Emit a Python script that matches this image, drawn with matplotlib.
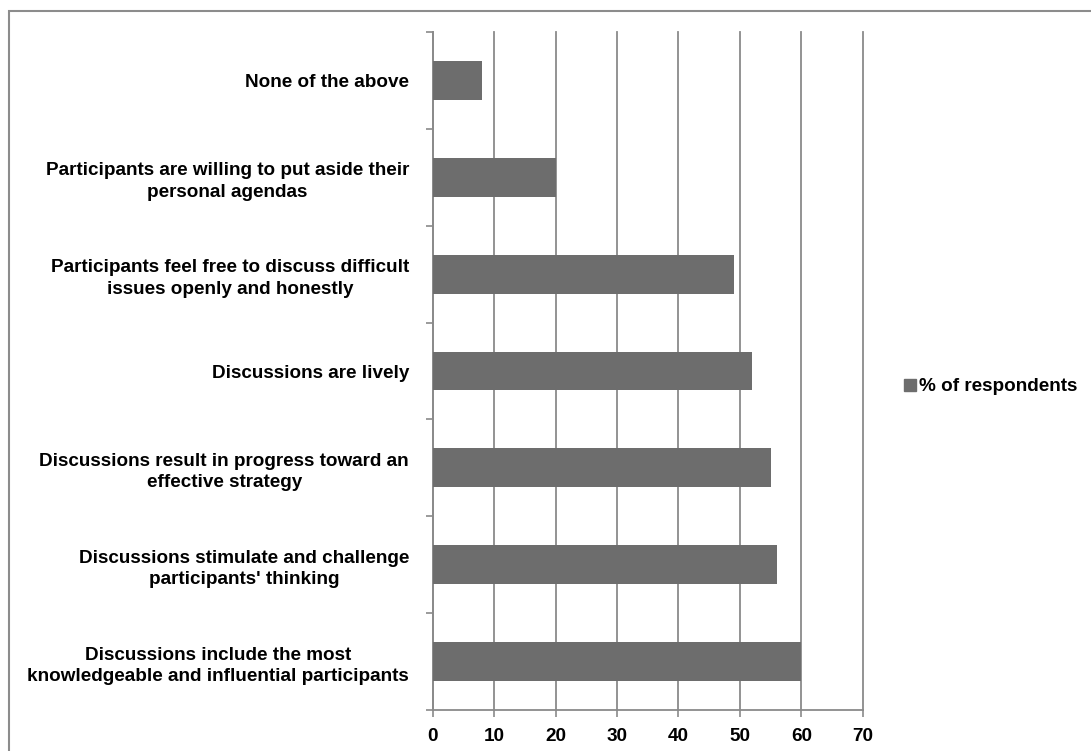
import matplotlib
matplotlib.use("Agg")
import matplotlib.pyplot as plt
from matplotlib.patches import Rectangle
from matplotlib.ticker import MultipleLocator, FixedLocator

plt.rcParams['font.family'] = ['Liberation Sans', 'DejaVu Sans']

categories = [
    "Discussions include the most\nknowledgeable and influential participants",
    "Discussions stimulate and challenge\nparticipants' thinking",
    "Discussions result in progress toward an\neffective strategy",
    "Discussions are lively",
    "Participants feel free to discuss difficult\nissues openly and honestly",
    "Participants are willing to put aside their\npersonal agendas",
    "None of the above",
]
values = [60, 56, 55, 52, 49, 20, 8]
series_name = "% of respondents"
x_ticks = [0, 10, 20, 30, 40, 50, 60, 70]

W, H = 1091, 751
FS = 13.6
fig = plt.figure(figsize=(W / 100, H / 100), dpi=100)
fig.patch.set_facecolor("white")

# outer chart frame
fig.patches.append(Rectangle((9 / W, -0.1), 1.2, 1 - 11 / H + 0.1,
                             transform=fig.transFigure, fill=False,
                             edgecolor="#8c8c8c", linewidth=1.5))

ax = fig.add_axes([432.7 / W, 41 / H, 430 / W, 678 / H])
bar_color = "#6d6d6d"
grid_color = "#8a8a8a"

y = list(range(len(categories)))
ax.barh(y, values, height=0.4, color=bar_color, label=series_name, zorder=3)

ax.set_xlim(0, 70)
ax.set_ylim(-0.5, len(categories) - 0.5)
ax.xaxis.set_major_locator(FixedLocator(x_ticks))
ax.set_xticklabels([str(t) for t in x_ticks], fontsize=FS, fontweight="bold")
ax.xaxis.grid(True, color=grid_color, linewidth=1.3, zorder=0)
ax.set_axisbelow(True)
for gl in ax.get_xgridlines():
    gl.set_clip_on(False)

ax.set_yticks(y)
ax.set_yticklabels(categories, fontsize=FS, fontweight="bold",
                   multialignment="center", linespacing=1.35)
ax.yaxis.set_minor_locator(MultipleLocator(1, offset=0.5))
ax.tick_params(axis="y", which="major", length=0, pad=17)
ax.tick_params(axis="y", which="minor", length=5, width=1.2, color=grid_color)
ax.tick_params(axis="x", which="major", length=5, width=1.2, color=grid_color, pad=8)

for s in ("top", "right"):
    ax.spines[s].set_visible(False)
for s in ("left", "bottom"):
    ax.spines[s].set_color(grid_color)
    ax.spines[s].set_linewidth(1.3)

leg = fig.legend(handles=[Rectangle((0, 0), 1, 1, color=bar_color)],
                 labels=[series_name], loc="center left",
                 bbox_to_anchor=(891 / W, 1 - 387 / H), frameon=False,
                 handlelength=0.6, handleheight=0.6, handletextpad=0.2,
                 borderpad=0.2, prop={"size": FS, "weight": "bold"})

fig.savefig("out.png", dpi=100)
